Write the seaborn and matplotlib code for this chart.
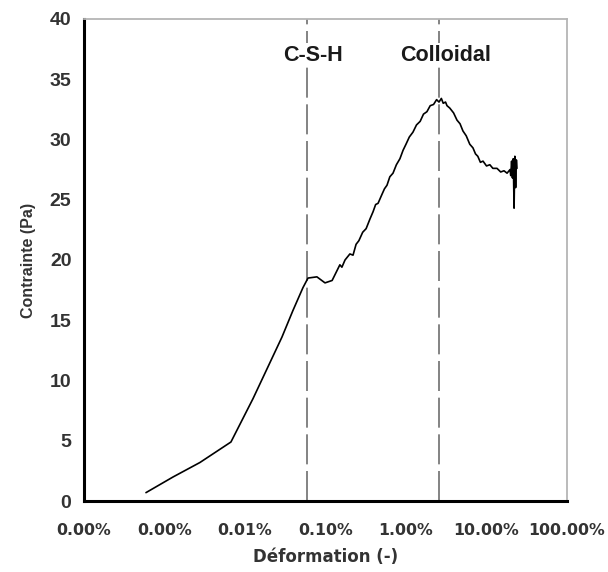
import numpy as np
import pandas as pd
import matplotlib
matplotlib.use('Agg')
import matplotlib.pyplot as plt
import seaborn as sns
from matplotlib.ticker import FuncFormatter, NullLocator

# Strain (fraction) and stress (Pa)
deformation = [5.9e-6, 1.28e-5, 2.76e-5, 6.7e-5, 1.26e-4, 2.88e-4, 3.94e-4,
               5.25e-4, 6.07e-4, 7.83e-4, 9.87e-4, 1.21e-3, 1.51e-3, 1.6e-3,
               1.75e-3, 2.01e-3, 2.2e-3, 2.4e-3, 2.6e-3, 2.9e-3, 3.2e-3,
               3.57e-3, 3.9e-3, 4.2e-3, 4.5e-3, 5.0e-3, 5.4e-3, 5.81e-3,
               6.3e-3, 6.9e-3, 7.6e-3, 8.41e-3, 9.2e-3, 1.0e-2, 1.1e-2,
               1.22e-2, 1.35e-2, 1.5e-2, 1.65e-2, 1.82e-2, 2.0e-2, 2.2e-2,
               2.4e-2, 2.57e-2, 2.75e-2, 2.9e-2, 3.1e-2, 3.23e-2, 3.5e-2,
               3.9e-2, 4.3e-2, 4.69e-2, 5.1e-2, 5.6e-2, 6.2e-2, 6.79e-2,
               7.3e-2, 7.8e-2, 8.4e-2, 9.05e-2, 0.1, 0.11, 0.12, 0.135,
               0.15, 0.165, 0.18, 0.196, 0.2, 0.205, 0.21, 0.215, 0.22,
               0.225, 0.23, 0.235, 0.239]
contrainte = [0.7, 2.0, 3.2, 4.9, 8.5, 13.6, 15.8,
              17.7, 18.5, 18.6, 18.1, 18.3, 19.6, 19.4,
              20.0, 20.5, 20.4, 21.3, 21.6, 22.3, 22.6,
              23.4, 24.0, 24.6, 24.7, 25.4, 25.9, 26.2,
              26.9, 27.2, 27.9, 28.4, 29.1, 29.6, 30.2,
              30.6, 31.2, 31.5, 32.1, 32.3, 32.8, 32.9,
              33.3, 33.1, 33.4, 33.0, 33.1, 32.8, 32.6,
              32.2, 31.6, 31.3, 30.7, 30.3, 29.6, 29.3,
              28.8, 28.6, 28.1, 28.2, 27.8, 27.9, 27.6, 27.6,
              27.3, 27.4, 27.2, 27.5, 27.0, 28.2, 26.8, 28.4, 24.3,
              28.6, 26.0, 28.3, 27.6]

# Vertical markers and their labels
repere_x = [5.9e-4, 2.57e-2]
repere_nom = ['C-S-H', 'Colloidal']
repere_texte_x = [7.0e-4, 3.14e-2]

xticks = [1e-6, 1e-5, 1e-4, 1e-3, 1e-2, 1e-1, 1]
yticks = list(range(0, 41, 5))

df = pd.DataFrame({'Deformation': deformation, 'Contrainte': contrainte})

sns.set_style('white')
fig = plt.figure(figsize=(6.08, 5.72), dpi=100)
ax = fig.add_axes([0.138, 0.124, 0.7946, 0.843])

for xv in repere_x:
    ax.axvline(xv, color='#6e6e6e', lw=1.2, dashes=(18, 4), zorder=1)

sns.lineplot(data=df, x='Deformation', y='Contrainte', ax=ax, sort=False,
             estimator=None, color='black', lw=1.2, zorder=3)

ax.set_xscale('log')
ax.set_xlim(1e-6, 1)
ax.set_ylim(0, 40)
ax.set_xticks(xticks)
ax.set_yticks(yticks)
ax.xaxis.set_minor_locator(NullLocator())
ax.xaxis.set_major_formatter(FuncFormatter(lambda v, p: '{:.2f}%'.format(v * 100)))

for lab in ax.get_xticklabels():
    lab.set_fontfamily('DejaVu Sans')
    lab.set_fontweight('bold')
    lab.set_fontsize(11.3)
    lab.set_color('#333333')
for lab in ax.get_yticklabels():
    lab.set_fontfamily('Liberation Sans')
    lab.set_fontweight('bold')
    lab.set_fontsize(14)
    lab.set_color('#333333')

ax.tick_params(axis='both', direction='out', length=5, width=2.2, color='black')
ax.tick_params(axis='x', pad=11)
ax.tick_params(axis='y', pad=4)

ax.set_xlabel('Déformation (-)', fontfamily='DejaVu Sans', fontweight='bold',
              fontsize=12, color='#333333', labelpad=7)
ax.set_ylabel('Contrainte (Pa)', fontfamily='Liberation Sans', fontweight='bold',
              fontsize=11.5, color='#333333', labelpad=10)

for s in ['left', 'bottom']:
    ax.spines[s].set_color('black')
    ax.spines[s].set_linewidth(2.2)
for s in ['top', 'right']:
    ax.spines[s].set_color('#b5b5b5')
    ax.spines[s].set_linewidth(1.3)

for tx, nom in zip(repere_texte_x, repere_nom):
    ax.text(tx, 37.0, nom, ha='center', va='center', fontfamily='Liberation Sans',
            fontweight='bold', fontsize=15.5, color='#1a1a1a',
            bbox=dict(facecolor='white', edgecolor='none', pad=1))

fig.savefig('out.png', dpi=100)
